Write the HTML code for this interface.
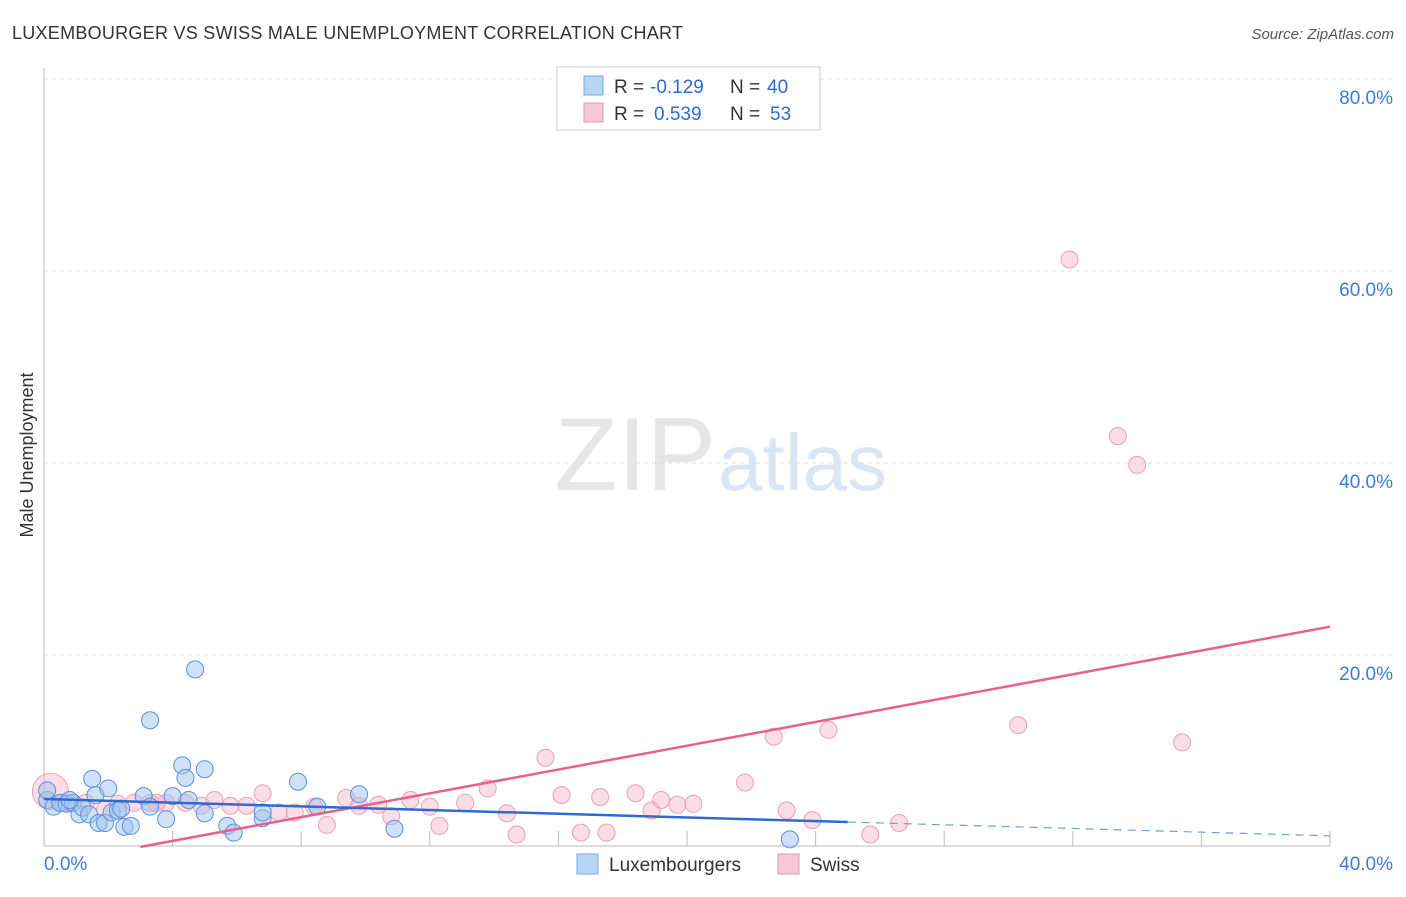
<!DOCTYPE html>
<html><head><meta charset="utf-8"><style>
body{margin:0;background:#fff;font-family:"Liberation Sans",sans-serif}
svg text{font-family:"Liberation Sans",sans-serif}
</style></head><body>
<svg id="chart" width="1406" height="892">
<text x="12" y="39" font-size="18" fill="#333" textLength="671">LUXEMBOURGER VS SWISS MALE UNEMPLOYMENT CORRELATION CHART</text>
<text x="1394" y="39" font-size="15" fill="#555" font-style="italic" text-anchor="end">Source: ZipAtlas.com</text>
<text x="716" y="490" font-size="104" fill="#e6e6e6" text-anchor="end" font-family="Liberation Serif">ZIP</text>
<text x="718" y="490" font-size="80" fill="#dbe6f5">atlas</text>
<text transform="translate(33,455) rotate(-90)" font-size="18" fill="#333" text-anchor="middle">Male Unemployment</text>
<g id="grid"></g><g id="pts"></g><g id="lines"></g>
<g>
<rect x="557" y="67" width="263" height="63" fill="#fff" stroke="#ccc"/>
<rect x="584" y="76" width="19" height="19" fill="#b8d4f5" stroke="#7aa7e0"/>
<rect x="584" y="103" width="19" height="19" fill="#f9c8d6" stroke="#e898b0"/>
<text x="614" y="93" font-size="19" fill="#333">R =</text>
<text x="650" y="93" font-size="19" fill="#2d6bd0">-0.129</text>
<text x="730" y="93" font-size="19" fill="#333">N =</text>
<text x="767" y="93" font-size="19" fill="#2d6bd0">40</text>
<text x="614" y="120" font-size="19" fill="#333">R =</text>
<text x="654" y="120" font-size="19" fill="#2d6bd0">0.539</text>
<text x="730" y="120" font-size="19" fill="#333">N =</text>
<text x="770" y="120" font-size="19" fill="#2d6bd0">53</text>
</g>
<g>
<rect x="577" y="854" width="21" height="20" fill="#b8d4f5" stroke="#7aa7e0"/>
<text x="609" y="871" font-size="19" fill="#333">Luxembourgers</text>
<rect x="778" y="854" width="21" height="20" fill="#f9c8d6" stroke="#e898b0"/>
<text x="810" y="871" font-size="19" fill="#333">Swiss</text>
</g>
</svg>
<script>
const yTicks=[20,40,60,80];
const xTickLabels=["0.0%","40.0%"];
const luxX=[0.1,0.3,0.5,0.7,0.9,1.1,1.2,1.4,1.5,1.6,1.7,1.9,2.0,2.1,2.3,2.4,2.5,2.7,3.1,3.3,3.3,3.8,4.0,4.3,4.4,4.5,4.7,5.0,5.0,5.7,5.9,6.8,6.8,7.9,8.5,9.8,10.9,23.2,0.1,0.8];
const luxY=[4.9,4.2,4.6,4.5,4.6,3.4,4.1,3.4,7.1,5.4,2.5,2.5,6.1,3.6,3.8,4.0,2.1,2.2,5.3,13.2,4.2,2.9,5.3,8.5,7.2,4.9,18.5,8.1,3.5,2.2,1.5,3.0,3.6,6.8,4.2,5.5,1.9,0.8,5.9,4.9];
const swX=[0.2,0.6,0.8,1.3,1.9,2.3,2.8,3.3,3.8,4.4,4.9,5.3,5.8,6.3,6.8,7.3,7.8,8.4,8.8,9.4,9.8,10.4,10.8,11.4,12.3,13.1,13.8,14.4,14.7,15.6,16.1,16.7,17.3,17.5,18.4,18.9,19.2,19.7,20.2,21.8,22.7,23.1,23.9,24.4,25.7,26.6,30.3,31.9,33.4,34.0,35.4,3.5,12.0];
const swY=[5.8,4.6,4.6,4.6,3.9,4.5,4.6,4.6,4.6,4.6,4.3,4.9,4.3,4.3,5.6,3.6,3.6,4.2,2.3,5.1,4.3,4.4,3.2,4.9,2.2,4.6,6.1,3.5,1.3,9.3,5.4,1.5,5.2,1.5,5.6,3.8,4.9,4.4,4.5,6.7,11.5,3.8,2.8,12.2,1.3,2.5,12.7,61.2,42.8,39.8,10.9,4.6,4.2];
const svgNS="http://www.w3.org/2000/svg";
const X0=44,X1=1330,Y0=847;
const sx=v=>X0+(v/40)*(X1-X0);
const sy=v=>Y0-v*9.6;
function mk(t,a,p){const e=document.createElementNS(svgNS,t);for(const k in a)e.setAttribute(k,a[k]);document.getElementById(p).appendChild(e);return e;}
yTicks.forEach(v=>{
 const l=mk('line',{x1:X0,x2:1395,y1:sy(v),y2:sy(v),stroke:'#ddd','stroke-dasharray':'4,4'},'grid');
 
 
 const t=mk('text',{x:1393,y:sy(v)+25,'font-size':19,fill:'#3d7bd6','text-anchor':'end'},'grid');
 t.textContent=v.toFixed(1)+'%';
 
 
});
mk('line',{x1:X0,x2:X0,y1:68,y2:846,stroke:'#bbb'},'grid');
mk('line',{x1:X0,x2:X1,y1:846,y2:846,stroke:'#bbb'},'grid');
for(let i=1;i<=10;i++){mk('line',{x1:sx(i*4),x2:sx(i*4),y1:831,y2:846,stroke:'#bbb'},'grid');}
const t0=mk('text',{x:44,y:870,'font-size':19,fill:'#3d7bd6'},'grid');t0.textContent=xTickLabels[0];


const t1=mk('text',{x:1393,y:870,'font-size':19,fill:'#3d7bd6','text-anchor':'end'},'grid');t1.textContent=xTickLabels[1];


swX.forEach((x,i)=>{const c=mk('circle',{cx:sx(x),cy:sy(swY[i]),r:i==0?18:8.5,fill:'rgba(246,180,200,0.45)',stroke:'#eaa0b8','stroke-width':1},'pts');
 
 });
luxX.forEach((x,i)=>{const c=mk('circle',{cx:sx(x),cy:sy(luxY[i]),r:8.5,fill:'rgba(160,196,240,0.5)',stroke:'#5a90dc','stroke-width':1},'pts');
 
 });
const swL=x=>-1.85+0.62*x, luxL=x=>5.0-0.096*x;
const a=mk('line',{x1:sx(3),y1:sy(swL(3)),x2:sx(40),y2:sy(swL(40)),stroke:'#e8608c','stroke-width':2.5},'lines');


const b=mk('line',{x1:sx(0),y1:sy(luxL(0)),x2:sx(25),y2:sy(luxL(25)),stroke:'#2d6bd0','stroke-width':2.5},'lines');


const c=mk('line',{x1:sx(25),y1:sy(luxL(25)),x2:sx(40),y2:sy(luxL(40)),stroke:'#6f9ee0','stroke-width':1.2,'stroke-dasharray':'8,6'},'lines');


</script>
</body></html>
